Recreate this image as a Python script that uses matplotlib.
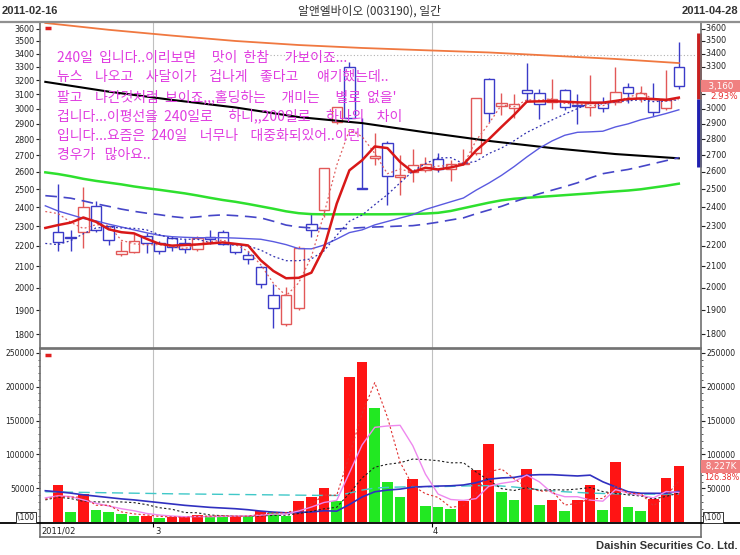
import matplotlib
matplotlib.use('Agg')
import matplotlib.pyplot as plt
import matplotlib.transforms as mtransforms
from matplotlib.lines import Line2D
from matplotlib.ticker import FixedLocator, FuncFormatter, NullLocator

W, H = 740, 555
KR = ['Noto Sans CJK KR', 'DejaVu Sans']

# daily candles, 2011-02 .. 2011-04 (won)
opens = [2270, 2245, 2270, 2405, 2300, 2160, 2170, 2250, 2215, 2240,
         2215, 2185, 2245, 2270, 2210, 2155, 2095, 1965, 1840, 1910,
         2310, 2387, 2910, 3300, 2510, 2685, 2775, 2570, 2600, 2610,
         2680, 2620, 2645, 2715, 3210, 3020, 3005, 3135, 3110, 3045,
         3135, 3030, 3015, 3045, 3050, 3150, 3075, 3065, 3005, 3300]
highs = [2530, 2280, 2515, 2435, 2300, 2225, 2260, 2265, 2225, 2250,
         2235, 2250, 2280, 2280, 2215, 2175, 2100, 2015, 2005, 2200,
         2365, 2625, 3015, 3340, 2940, 2840, 2790, 2700, 2740, 2690,
         2715, 2670, 2740, 3075, 3220, 3110, 3100, 3330, 3140, 3210,
         3140, 3100, 3240, 3080, 3300, 3180, 3160, 3180, 3280, 3490]
lows = [2175, 2175, 2190, 2270, 2205, 2150, 2165, 2165, 2160, 2175,
        2165, 2175, 2210, 2205, 2160, 2110, 2000, 1825, 1835, 1900,
        2245, 2350, 2900, 2940, 2500, 2640, 2410, 2470, 2540, 2600,
        2600, 2550, 2640, 2700, 2910, 2960, 2940, 3045, 2930, 3000,
        2990, 2900, 2950, 2980, 3030, 3040, 3045, 2950, 2990, 3140]
closes = [2220, 2240, 2400, 2280, 2230, 2172, 2225, 2215, 2175, 2195,
          2185, 2240, 2235, 2210, 2170, 2135, 2015, 1910, 1965, 2190,
          2280, 2625, 3015, 2940, 2500, 2695, 2575, 2580, 2640, 2645,
          2620, 2650, 2655, 3075, 2970, 3040, 3035, 3110, 3035, 3065,
          3015, 3020, 3040, 3005, 3120, 3110, 3110, 2980, 3070, 3160]
volumes = [55400, 14700, 42000, 18600, 14700, 12700, 9800, 10000, 6400, 7400,
           7500, 11300, 8800, 8600, 9500, 8800, 17000, 15700, 9800, 32000,
           38000, 50500, 31000, 213600, 236700, 168000, 60000, 38000, 63700, 24500,
           22000, 19600, 31900, 76400, 115600, 44000, 33000, 79000, 26000, 33300,
           17000, 33300, 54400, 17600, 88700, 22000, 16200, 34800, 65100, 82270]

# moving averages, sessions -1 .. 49
ma_idx = list(range(-1, 50))
ma3 = [2377, 2366, 2320, 2287, 2307, 2303, 2227, 2209, 2204, 2205, 2195,
       2185, 2207, 2220, 2228, 2205, 2172, 2107, 2020, 1963, 2022,
       2145, 2365, 2640, 2860, 2818, 2712, 2590, 2617, 2598, 2622,
       2635, 2638, 2642, 2793, 2900, 3028, 3015, 3062, 3060, 3070,
       3038, 3033, 3025, 3022, 3055, 3078, 3113, 3067, 3053, 3070]
ma5 = [2290, 2305, 2318, 2345, 2322, 2283, 2268, 2262, 2234, 2209, 2200,
       2203, 2206, 2211, 2216, 2209, 2201, 2128, 2077, 2043, 2045,
       2069, 2190, 2420, 2610, 2670, 2755, 2745, 2660, 2600, 2625,
       2615, 2627, 2645, 2730, 2800, 2880, 2960, 3050, 3052, 3053,
       3050, 3045, 3043, 3043, 3055, 3068, 3072, 3068, 3062, 3078]
ma10 = [2211, 2205, 2225, 2260, 2290, 2295, 2290, 2288, 2280, 2255, 2235,
        2232, 2232, 2215, 2208, 2202, 2199, 2178, 2147, 2126, 2126,
        2135, 2174, 2252, 2325, 2358, 2414, 2470, 2537, 2604, 2650,
        2684, 2686, 2650, 2664, 2711, 2745, 2791, 2844, 2884, 2926,
        2965, 3002, 3041, 3034, 3049, 3056, 3063, 3050, 3054, 3063]
ma20 = [2408, 2380, 2360, 2340, 2327, 2310, 2295, 2280, 2265, 2252, 2245,
        2242, 2240, 2240, 2240, 2238, 2235, 2232, 2220, 2205, 2185,
        2184, 2203, 2233, 2266, 2280, 2306, 2324, 2342, 2360, 2388,
        2409, 2430, 2451, 2495, 2535, 2580, 2632, 2690, 2745, 2790,
        2826, 2845, 2848, 2852, 2880, 2900, 2927, 2947, 2969, 2994]
ma40 = [2464, 2458, 2450, 2435, 2419, 2405, 2390, 2378, 2368, 2360, 2350,
        2343, 2348, 2355, 2359, 2355, 2350, 2343, 2325, 2305, 2295,
        2290, 2286, 2285, 2288, 2292, 2295, 2297, 2300, 2302, 2310,
        2320, 2332, 2343, 2365, 2385, 2405, 2430, 2453, 2475, 2495,
        2515, 2537, 2565, 2590, 2603, 2615, 2632, 2650, 2668, 2686]
ma60 = [2598, 2588, 2575, 2560, 2548, 2538, 2528, 2516, 2506, 2497, 2487,
        2477, 2465, 2452, 2440, 2430, 2418, 2405, 2392, 2378, 2368,
        2363, 2362, 2362, 2362, 2362, 2362, 2362, 2363, 2364, 2366,
        2370, 2380, 2395, 2410, 2425, 2438, 2447, 2452, 2457, 2462,
        2467, 2472, 2477, 2483, 2488, 2493, 2500, 2510, 2520, 2532]
# long averages, read every 5th session
long_idx = [-1, 4, 9, 14, 19, 24, 29, 34, 39, 44, 49]
ma120 = [3190, 3120, 3062, 3010, 2945, 2905, 2845, 2790, 2745, 2708, 2682]
ma240 = [3646, 3590, 3543, 3500, 3468, 3445, 3427, 3410, 3385, 3360, 3329]
ref_line = 3390
gauge = [2630, 3070, 3560]

# volume averages (thousand shares), sessions -1 .. 49
vma3 = [34, 38, 37, 37.4, 25.1, 25.1, 15.3, 12.4, 10.8, 8.7, 7.9,
        7.1, 8.7, 9.2, 9.6, 9.0, 9.0, 11.8, 13.8, 14.2, 19.2,
        26.6, 40.2, 39.8, 98.4, 160.4, 206, 155, 88.7, 53.9, 42.1,
        36.7, 22, 24.5, 42.6, 74.6, 78.7, 64.2, 52, 46, 46.1,
        25.4, 27.9, 34.9, 35.1, 53.6, 42.8, 42.3, 24.3, 38.7, 60.7]
vma5 = [36, 39, 38, 33, 28, 24, 20, 17, 13, 10.7, 9.2,
        8.2, 8.5, 8.3, 8.7, 9.2, 9.4, 10.6, 12, 12.2, 16.7,
        22.5, 29.2, 32.3, 73, 114, 140, 142, 143, 113, 71,
        41.6, 33.6, 32.3, 34.9, 53.1, 57.4, 60.2, 69.6, 59.5, 43.1,
        37.7, 37.7, 32.8, 31.1, 48.2, 43.2, 39.8, 35.9, 45.4, 44.1]
vma10 = [33, 37, 35, 31, 30, 30, 30, 29, 26, 21.5, 19.2,
         14.4, 14.0, 10.7, 9.7, 9.2, 8.8, 9.5, 10.1, 10.5, 12.9,
         16.0, 19.9, 22.1, 42.6, 65.3, 81.2, 85.5, 87.8, 93.2, 92.4,
         90.8, 87.7, 87.8, 74.1, 62.0, 49.6, 46.9, 51.0, 47.2, 48.1,
         47.6, 49.0, 51.2, 45.3, 42.6, 40.4, 38.8, 34.3, 38.2, 43.1]
vma20 = [46.5, 45, 43, 40.5, 38.5, 36.5, 34.5, 33, 31, 29, 27,
         25, 23.5, 22, 21, 20, 18.5, 16.5, 15, 14, 14.5,
         15.2, 17.0, 16.4, 26.2, 37.3, 45.0, 47.5, 48.9, 51.8, 52.7,
         53.4, 53.8, 55.0, 58.3, 63.6, 65.4, 66.2, 69.4, 70.2, 70.2,
         69.2, 68.3, 69.5, 59.7, 52.3, 45.0, 42.8, 42.7, 42.7, 45.6]
vma60 = [45, 44.7, 44.4, 44.1, 43.8, 43.5, 43.2, 42.9, 42.6, 42.3, 42.0,
         41.8, 41.6, 41.4, 41.2, 41.0, 40.8, 40.6, 40.4, 40.2, 40.0,
         39.8, 39.6, 39.5, 43, 47.5, 50.5, 51.5, 52, 52.5, 52.5,
         52.5, 53, 53.5, 54, 54, 53.5, 52, 50, 48, 46.5,
         45, 44, 43, 42.5, 42, 41.8, 41.6, 41.6, 41.6, 41.6]

price_ticks = list(range(1800, 3601, 100))
hidden_right = [3100, 3200]  # covered by the last-price tag
vol_ticks = [50000, 100000, 150000, 200000, 250000]

note_lines = [
    "240일  입니다..이리보면     맛이  한참     가보이죠...",
    "뉴스    나오고    사달이가    겁나게    좋다고      얘기했는데..",
    "팔고    나간것처럼  보이죠,,,홀딩하는     개미는     별로  없을'",
    "겁니다...이평선을  240일로     하니,,200일로     하나의    차이",
    "입니다...요즘은  240일    너무나    대중화되있어..이런",
    "경우가   많아요..",
]


def fx(px):
    return px / W


def fy(py):
    return 1 - py / H


fig = plt.figure(figsize=(W / 100, H / 100), dpi=100)
L, R = 40, 701
ax = fig.add_axes([fx(L), fy(348), (R - L) / W, (348 - 22) / H])
axv = fig.add_axes([fx(L), fy(537), (R - L) / W, (537 - 349) / H])

UP, DOWN = '#e25858', '#3b3bc8'
n = len(closes)
xs = list(range(n))

# ---- price panel
ax.set_yscale('log')
ax.set_ylim(1744, 3654)
ax.set_xlim(-1.42, 50.75)
ax.axvline(7.5, color='#c0c0c0', lw=0.8, zorder=0)
ax.axvline(29.5, color='#c0c0c0', lw=0.8, zorder=0)

for i in xs:
    o, h, l, c = opens[i], highs[i], lows[i], closes[i]
    col = UP if c >= o else DOWN
    lo, hi = min(o, c), max(o, c)
    ax.vlines(i, l, lo, color=col, lw=1, zorder=2)
    ax.vlines(i, hi, h, color=col, lw=1, zorder=2)
    ax.bar(i, max(hi - lo, 1), bottom=lo, width=0.82, fill=False,
           edgecolor=col, lw=1, zorder=2)

ax.plot(long_idx, ma240, color='#f07840', lw=1.3, zorder=3)
ax.plot(long_idx, ma120, color='black', lw=1.5, zorder=3)
ax.plot(ma_idx, ma60, color='#2ee02e', lw=1.8, zorder=3)
ax.plot(ma_idx, ma40, color='#4646c8', lw=1.2, dashes=(7, 4), zorder=3)
ax.plot(ma_idx, ma20, color='#5a5ae0', lw=1.0, zorder=3)
ax.plot(ma_idx, ma10, color='#3030b0', lw=0.9, linestyle=(0, (1.5, 2)), zorder=3)
ax.plot(ma_idx, ma3, color='#e06060', lw=0.9, linestyle=(0, (1.5, 2)), zorder=3)
ax.plot(ma_idx, ma5, color='#d81818', lw=1.8, zorder=4)
ax.hlines(ref_line, 16.7, 50.3, color='#b0b0b0', lw=0.8, linestyles=(0, (1, 2)), zorder=1)

ax.yaxis.set_major_locator(FixedLocator(price_ticks))
ax.yaxis.set_minor_locator(NullLocator())
ax.yaxis.set_major_formatter(FuncFormatter(lambda v, p: f'{int(round(v))}'))
ax.tick_params(axis='y', which='major', left=True, right=True, labelleft=True,
               labelright=False, length=3, width=0.8, labelsize=5.8, pad=1,
               colors='#222222')
ax.set_xticks([])
for s in ax.spines.values():
    s.set_color('#707070')
    s.set_linewidth(1.2)

rblend = mtransforms.blended_transform_factory(ax.transAxes, ax.transData)
for t in price_ticks:
    if t in hidden_right:
        continue
    ax.text(1.0, t, f'  {t}', transform=rblend, ha='left', va='center',
            fontsize=5.8, color='#222222', clip_on=False)

blend = mtransforms.blended_transform_factory(fig.transFigure, ax.transData)
ax.vlines(fx(699), gauge[1], gauge[2], transform=blend, color='#c82020', lw=3.5, clip_on=False)
ax.vlines(fx(699), gauge[0], gauge[1], transform=blend, color='#2020b0', lw=3.5, clip_on=False)
ax.text(fx(721), closes[-1], '  3,160  ', transform=blend, ha='center', va='center',
        color='white', fontsize=6.3,
        bbox=dict(boxstyle='square,pad=0.2', fc='#f08080', ec='none'), clip_on=False)
fig.text(fx(724), fy(96.5), '2.93%', color='#e83030', fontsize=6.3, ha='center', va='center')
ax.plot([0.008, 0.017], [0.982, 0.982], transform=ax.transAxes, color='#e02020',
        lw=2.5, solid_capstyle='butt', clip_on=False)

for k, line in enumerate(note_lines):
    fig.text(fx(57), fy(58 + k * 19.4), line, color='#e03ce0', fontsize=10,
             family=KR, ha='left', va='center')

# ---- volume panel
axv.set_xlim(-1.42, 50.75)
axv.set_ylim(-21700, 255500)
vcol = ['#ff1414' if i == 0 or volumes[i] > volumes[i - 1] else '#22e822' for i in xs]
axv.bar(xs, volumes, width=0.84, color=vcol, zorder=2)
k = 1000
axv.plot(ma_idx, [v * k for v in vma60], color='#40c8c8', lw=1.0, dashes=(8, 4), zorder=3)
axv.plot(ma_idx, [v * k for v in vma20], color='#3030c0', lw=1.2, zorder=3)
axv.plot(ma_idx, [v * k for v in vma10], color='#202020', lw=0.8, linestyle=(0, (2, 2)), zorder=3)
axv.plot(ma_idx, [v * k for v in vma5], color='#ee88ee', lw=1.0, zorder=3)
axv.plot(ma_idx, [v * k for v in vma3], color='#e03030', lw=0.8, linestyle=(0, (2, 2)), zorder=3)
for m in (7.5, 29.5):
    axv.vlines(m, 0, 255500, color='#c0c0c0', lw=0.8, zorder=0)
    axv.vlines(m, -6500, 0, color='black', lw=0.8)

axv.yaxis.set_major_locator(FixedLocator(vol_ticks))
axv.yaxis.set_minor_locator(FixedLocator([v for v in range(10000, 250001, 10000) if v not in vol_ticks]))
axv.yaxis.set_major_formatter(FuncFormatter(lambda v, p: f'{int(v)}'))
axv.tick_params(axis='y', which='major', left=True, right=True, labelleft=True,
                labelright=True, length=3, width=0.8, labelsize=5.5, pad=1, colors='#222222')
axv.tick_params(axis='y', which='minor', left=True, right=True, length=1.5, width=0.6,
                colors='#444444')
axv.set_xticks([])
for s in axv.spines.values():
    s.set_color('#707070')
    s.set_linewidth(1.2)

vblend = mtransforms.blended_transform_factory(fig.transFigure, axv.transData)
axv.text(fx(721), volumes[-1], ' 8,227K ', transform=vblend, ha='center', va='center',
         color='white', fontsize=6.3,
         bbox=dict(boxstyle='square,pad=0.2', fc='#f08080', ec='none'), clip_on=False)
fig.text(fx(722), fy(477.5), '126.38%', color='#e83030', fontsize=5.8, ha='center', va='center')
axv.plot([0.008, 0.017], [0.968, 0.968], transform=axv.transAxes, color='#e02020',
         lw=2.5, solid_capstyle='butt', clip_on=False)
for xp in (26, 713):
    fig.text(fx(xp), fy(517.5), '\\100', fontsize=5.5, ha='center', va='center', color='#222',
             bbox=dict(boxstyle='square,pad=0.15', fc='white', ec='#333', lw=0.7))

fig.add_artist(Line2D([0, 1], [fy(523), fy(523)], color='black', lw=1.3))
fig.add_artist(Line2D([0, 1], [fy(22), fy(22)], color='#909090', lw=1.6))

fig.text(fx(41), fy(531), '2011/02', fontsize=6, ha='left', va='center', color='#222')
fig.text(fx(155), fy(531), '3', fontsize=6, ha='left', va='center', color='#222')
fig.text(fx(433), fy(531), '4', fontsize=6, ha='left', va='center', color='#222')

# ---- header / footer
narrow = ['Liberation Sans Narrow', 'Liberation Sans', 'DejaVu Sans']
fig.text(fx(2), fy(11), '2011-02-16', fontsize=8, weight='bold', family=narrow,
         ha='left', va='center', color='#333')
fig.text(fx(738), fy(11), '2011-04-28', fontsize=8, weight='bold', family=narrow,
         ha='right', va='center', color='#333')
fig.text(fx(369), fy(11), '알앤엘바이오 (003190), 일간', fontsize=8.5, family=KR,
         ha='center', va='center', color='#333')
fig.text(fx(738), fy(546), 'Daishin Securities Co. Ltd.', fontsize=8, weight='bold',
         family=narrow, ha='right', va='center', color='#333')

fig.savefig('out.png', dpi=100)
